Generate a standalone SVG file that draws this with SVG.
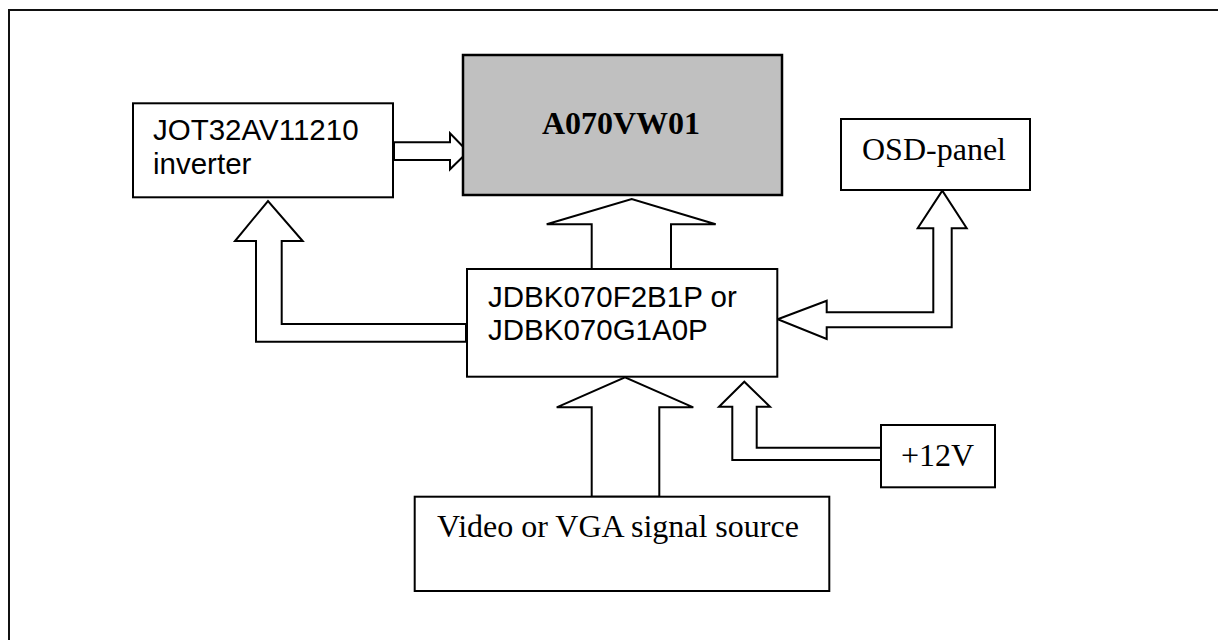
<svg xmlns="http://www.w3.org/2000/svg" width="1218" height="640" viewBox="0 0 1218 640">
<style>
.box{fill:#fff;stroke:#000;stroke-width:2}
.lcd{fill:#c0c0c0;stroke:#000;stroke-width:2.5}
.arr{fill:#fff;stroke:#000;stroke-width:2;stroke-linejoin:miter}
.sans{font-family:"Liberation Sans",Arial,sans-serif;font-size:29.5px;fill:#000}
.serif{font-family:"Liberation Serif","Times New Roman",serif;font-size:32px;fill:#000}
.bold{font-weight:bold}
</style>
<rect width="1218" height="640" fill="#fff"/>
<path d="M9,650 V10 H1230" fill="none" stroke="#111" stroke-width="2"/>
<g id="connectors">
<polygon class="arr" points="394,142.3 450,142.3 450,133.3 468,151.7 450,169.3 450,160 394,160"/>
<polygon class="arr" points="591.7,269 591.7,224.3 546.7,224.3 631.7,199 715.7,224.3 671,224.3 671,269"/>
<polygon class="arr" points="466,341.7 256,341.7 256,241 235,241 268,201 302.7,241 281.7,241 281.7,324 466,324"/>
<polygon class="arr" points="777.7,319.3 826.7,300.7 826.7,312.3 933.3,312.3 933.3,228.3 917.7,228.3 942.3,190.7 966.7,228.3 951.7,228.3 951.7,327.3 826.7,327.3 826.7,339"/>
<polygon class="arr" points="881,460 732.3,460 732.3,406.7 719,406.7 744.3,381.7 770,406.7 756.7,406.7 756.7,447.7 881,447.7"/>
<polygon class="arr" points="591.7,496.7 591.7,407.3 556.7,407.3 625,377.3 693.3,407.3 659.3,407.3 659.3,496.7"/>
</g>
<g id="inverter">
<rect class="box" x="133" y="103.3" width="260" height="94"/>
<text class="sans" x="153" y="140">JOT32AV11210</text>
<text class="sans" x="153" y="174">inverter</text>
</g>
<g id="a070vw01">
<rect class="lcd" x="463" y="55" width="319" height="140"/>
<text class="serif bold" x="621" y="134" text-anchor="middle">A070VW01</text>
</g>
<g id="osd-panel">
<rect class="box" x="841" y="119" width="189" height="71"/>
<text class="serif" x="862" y="160">OSD-panel</text>
</g>
<g id="jdbk">
<rect class="box" x="467" y="269" width="310.3" height="107.7"/>
<text class="sans" x="488" y="306.5">JDBK070F2B1P or</text>
<text class="sans" x="488" y="339.5">JDBK070G1A0P</text>
</g>
<g id="plus12v">
<rect class="box" x="881" y="425" width="114" height="62.3"/>
<text class="serif" x="901" y="466">+12V</text>
</g>
<g id="video-source">
<rect class="box" x="414.7" y="496.7" width="414.6" height="94.3"/>
<text class="serif" x="437" y="537">Video or VGA signal source</text>
</g>
</svg>
